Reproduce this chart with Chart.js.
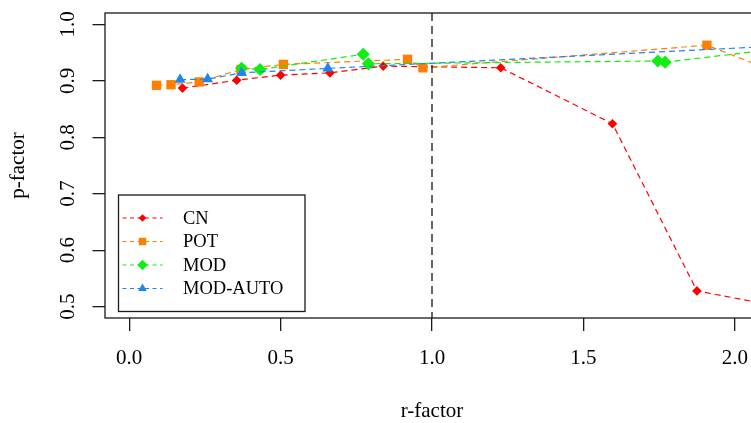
<!DOCTYPE html>
<html>
<head>
<meta charset="utf-8">
<script src="https://cdn.jsdelivr.net/npm/chart.js@4/dist/chart.umd.min.js"></script>
<style>
    body { margin: 0; overflow: hidden; background: #fff; }
    #wrap { width: 780px; height: 423px; }
</style>
</head>
<body>
<div id="wrap"><canvas id="pfactorChart" width="780" height="423"></canvas></div>
<script>
// r-factor / p-factor pairs per calibration run
const cnR = [0.176, 0.355, 0.500, 0.663, 0.839, 1.227, 1.596, 1.875, 2.200];
const cnP = [0.887, 0.901, 0.910, 0.914, 0.926, 0.923, 0.824, 0.528, 0.495];

const potR = [0.090, 0.138, 0.231, 0.369, 0.509, 0.919, 0.970, 1.908, 2.200];
const potP = [0.892, 0.893, 0.898, 0.920, 0.929, 0.938, 0.923, 0.963, 0.902];

const modR = [0.371, 0.432, 0.773, 0.790, 1.746, 1.770, 2.200];
const modP = [0.922, 0.920, 0.947, 0.930, 0.935, 0.933, 0.960];

const autoR = [0.168, 0.259, 0.371, 0.656, 2.200];
const autoP = [0.902, 0.903, 0.914, 0.922, 0.963];

const xTicks = [0.0, 0.5, 1.0, 1.5, 2.0];
const yTicks = [0.5, 0.6, 0.7, 0.8, 0.9, 1.0];
const refR = 1.0;

const serif = "'Liberation Serif', 'Times New Roman', serif";
const ink = '#1a1a1a';

function points(rs, ps) {
    return rs.map(function (r, i) { return { x: r, y: ps[i] }; });
}

function series(label, rs, ps, color, style, radius, order) {
    return {
        label: label,
        data: points(rs, ps),
        borderColor: color,
        backgroundColor: color,
        borderWidth: 1.2,
        borderDash: [6, 4],
        pointStyle: style,
        pointRadius: radius,
        pointHoverRadius: radius,
        pointBorderWidth: 0,
        tension: 0,
        order: order
    };
}

const framePlugin = {
    id: 'frame',
    afterDatasetsDraw(chart) {
        const ctx = chart.ctx;
        const a = chart.chartArea;
        const px = chart.scales.x.getPixelForValue(refR);
        ctx.save();
        ctx.strokeStyle = '#000';
        ctx.lineWidth = 1.2;
        ctx.setLineDash([8, 5]);
        ctx.beginPath();
        ctx.moveTo(px, a.top);
        ctx.lineTo(px, a.bottom);
        ctx.stroke();
        ctx.restore();
    },
    afterDraw(chart) {
        const ctx = chart.ctx;
        const a = chart.chartArea;
        ctx.save();
        ctx.strokeStyle = ink;
        ctx.lineWidth = 1.3;
        ctx.strokeRect(a.left, a.top, a.right - a.left, a.bottom - a.top);

        // y labels run along the axis
        ctx.fillStyle = '#000';
        ctx.font = '21px ' + serif;
        ctx.textAlign = 'center';
        ctx.textBaseline = 'middle';
        yTicks.forEach(function (v) {
            const py = chart.scales.y.getPixelForValue(v);
            ctx.save();
            ctx.translate(68, py);
            ctx.rotate(-Math.PI / 2);
            ctx.fillText(v.toFixed(1), 0, 0);
            ctx.restore();
        });

        drawLegend(chart);
        ctx.restore();
    }
};

function drawLegend(chart) {
    const ctx = chart.ctx;
    ctx.save();
    ctx.fillStyle = '#fff';
    ctx.fillRect(118.5, 195, 186.5, 116.5);
    ctx.strokeStyle = ink;
    ctx.lineWidth = 1.3;
    ctx.strokeRect(118.5, 195, 186.5, 116.5);
    ctx.font = '18.5px ' + serif;
    ctx.textAlign = 'left';
    ctx.textBaseline = 'middle';
    chart.data.datasets.forEach(function (ds, i) {
        const y = 218 + i * 23.5;
        ctx.strokeStyle = ds.borderColor;
        ctx.lineWidth = ds.borderWidth;
        ctx.setLineDash([4, 3.5]);
        ctx.beginPath();
        ctx.moveTo(122.5, y);
        ctx.lineTo(162.5, y);
        ctx.stroke();
        ctx.setLineDash([]);
        ctx.fillStyle = ds.backgroundColor;
        Chart.helpers.drawPoint(ctx, {
            pointStyle: ds.pointStyle,
            radius: ds.pointRadius * 0.8,
            rotation: 0,
            borderWidth: 0
        }, 142.5, y);
        ctx.fillStyle = '#000';
        ctx.fillText(ds.label, 183, y + 1);
    });
    ctx.restore();
}

var pfactorChart = new Chart(
    document.getElementById('pfactorChart'),
    {
        type: 'line',
        data: {
            datasets: [
                series('CN', cnR, cnP, '#ff0000', 'rectRot', 4.8, 4),
                series('POT', potR, potP, '#ff7f00', 'rect', 6.6, 3),
                series('MOD', modR, modP, '#11ee11', 'rectRot', 6.6, 2),
                series('MOD-AUTO', autoR, autoP, '#1c86ee', 'triangle', 6.3, 1)
            ]
        },
        options: {
            responsive: false,
            animation: false,
            events: [],
            layout: { padding: { top: 13, right: 21, left: 0, bottom: 0 } },
            plugins: {
                legend: { display: false },
                tooltip: { enabled: false }
            },
            scales: {
                x: {
                    type: 'linear',
                    min: -0.08,
                    max: 2.08,
                    afterBuildTicks: function (s) { s.ticks = xTicks.map(function (v) { return { value: v }; }); },
                    afterFit: function (s) { s.height = 105; },
                    border: { display: false },
                    grid: { drawOnChartArea: false, drawTicks: true, tickLength: 13, color: ink, lineWidth: 1.3 },
                    ticks: {
                        padding: 16.5,
                        color: '#000',
                        font: { family: serif, size: 21, lineHeight: 1 },
                        maxRotation: 0,
                        callback: function (v) { return v.toFixed(1); }
                    },
                    title: {
                        display: true,
                        text: 'r-factor',
                        color: '#000',
                        font: { family: serif, size: 21, lineHeight: 1 },
                        padding: { top: 0, bottom: 1.5 }
                    }
                },
                y: {
                    type: 'linear',
                    min: 0.48,
                    max: 1.02,
                    afterBuildTicks: function (s) { s.ticks = yTicks.map(function (v) { return { value: v }; }); },
                    afterFit: function (s) { s.width = 105; },
                    border: { display: false },
                    grid: { drawOnChartArea: false, drawTicks: true, tickLength: 12.5, color: ink, lineWidth: 1.3 },
                    ticks: { display: false },
                    title: {
                        display: true,
                        text: 'p-factor',
                        color: '#000',
                        font: { family: serif, size: 21, lineHeight: 1 },
                        padding: { top: 7.5, bottom: 0 }
                    }
                }
            }
        },
        plugins: [framePlugin]
    }
);
</script>
</body>
</html>
